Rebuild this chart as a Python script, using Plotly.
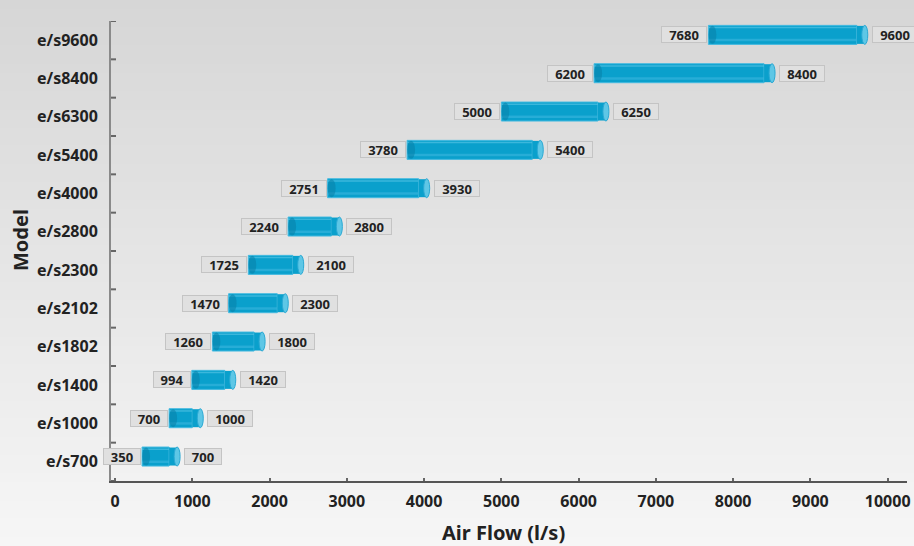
import plotly.graph_objects as go

# ---- data ----
models = ["e/s700", "e/s1000", "e/s1400", "e/s1802", "e/s2102", "e/s2300",
          "e/s2800", "e/s4000", "e/s5400", "e/s6300", "e/s8400", "e/s9600"]
flow_low = [350, 700, 994, 1260, 1470, 1725, 2240, 2751, 3780, 5000, 6200, 7680]
flow_high = [700, 1000, 1420, 1800, 2100, 2300, 2800, 3930, 5400, 6250, 8400, 9600]
low_labels = ["350", "700", "994", "1260", "1470", "1725", "2240", "2751", "3780", "5000", "6200", "7680"]
high_labels = ["700", "1000", "1420", "1800", "2300", "2100", "2800", "3930", "5400", "6250", "8400", "9600"]
x_ticks = [0, 1000, 2000, 3000, 4000, 5000, 6000, 7000, 8000, 9000, 10000]
x_tick_labels = ["0", "1000", "2000", "3000", "4000", "5000", "6000", "7000", "8000", "9000", "10000"]

FONT = "Noto Sans"
BAR = "#0aa0cc"
W, H = 914, 546
ML, MR, MT, MB = 111, 7, 21, 65
PW, PH = W - ML - MR, H - MT - MB

fig = go.Figure()
fig.add_trace(go.Bar(
    y=list(range(len(models))),
    x=[h - l for l, h in zip(flow_low, flow_high)],
    base=flow_low,
    orientation="h",
    width=0.4957,
    offset=-0.1098,
    marker=dict(color=BAR, line=dict(color="#45bae0", width=1)),
    hoverinfo="skip",
    showlegend=False,
))

shapes = []
# background gradient (paper coords)
N = 60
top_c, bot_c = (0xd6, 0xd6, 0xd6), (0xf6, 0xf6, 0xf6)
for k in range(N):
    p0 = k * H / N
    p1 = (k + 1) * H / N + 1
    t = (k + 0.5) / N
    col = tuple(round(top_c[j] + (bot_c[j] - top_c[j]) * t) for j in range(3))
    shapes.append(dict(
        type="rect", xref="paper", yref="paper", layer="below",
        x0=(0 - ML) / PW, x1=(W - ML) / PW,
        y0=(H - MB - p1) / PH, y1=(H - MB - p0) / PH,
        fillcolor="rgb(%d,%d,%d)" % col, line=dict(width=0),
    ))

c, h = 5.3, 9.5
for i, (lo, hi) in enumerate(zip(flow_low, flow_high)):
    shapes.append(dict(type="rect", xref="x", yref="y", x0=lo, x1=hi,
                       ysizemode="pixel", yanchor=i, y0=c - 6.5, y1=c - 4,
                       fillcolor="#3ab6de", opacity=0.6, line=dict(width=0)))
    shapes.append(dict(type="rect", xref="x", yref="y", x0=lo, x1=hi,
                       ysizemode="pixel", yanchor=i, y0=c + 6.5, y1=c + 8,
                       fillcolor="#5cc6e6", opacity=0.6, line=dict(width=0)))
    shapes.append(dict(type="rect", xref="x", yref="y",
                       xsizemode="pixel", xanchor=hi, x0=0, x1=8,
                       ysizemode="pixel", yanchor=i, y0=c - h + 0.5, y1=c + h - 0.5,
                       fillcolor=BAR, line=dict(width=0)))
    shapes.append(dict(type="circle", xref="x", yref="y",
                       xsizemode="pixel", xanchor=lo, x0=0, x1=8,
                       ysizemode="pixel", yanchor=i, y0=c - h + 0.5, y1=c + h - 0.5,
                       fillcolor="#0880a8", opacity=0.55, line=dict(width=0)))
    shapes.append(dict(type="circle", xref="x", yref="y",
                       xsizemode="pixel", xanchor=hi, x0=5, x1=11,
                       ysizemode="pixel", yanchor=i, y0=c - h, y1=c + h,
                       fillcolor="#5ec7e6", line=dict(color="#2aa9d4", width=1)))

annotations = []
for i, (lo, hi, tl, th) in enumerate(zip(flow_low, flow_high, low_labels, high_labels)):
    for xv, txt, anchor, shift in ((lo, tl, "right", -1), (hi, th, "left", 15)):
        annotations.append(dict(
            x=xv, y=i, xref="x", yref="y", text=txt, showarrow=False,
            xanchor=anchor, yanchor="middle", xshift=shift, yshift=c,
            width=8 * len(txt) + 12, height=15,
            font=dict(family=FONT, size=13, color="#222222", weight="bold"),
            bgcolor="#e0e0e0", bordercolor="#c4c4c4", borderwidth=1, borderpad=0,
        ))

annotations.append(dict(
    x=(503 - ML) / PW, y=(H - MB - 532) / PH, xref="paper", yref="paper",
    text="Air Flow (l/s)", showarrow=False, xanchor="center", yanchor="middle",
    font=dict(family=FONT, size=20, color="#222222", weight="bold"),
))
annotations.append(dict(
    x=(20 - ML) / PW, y=(H - MB - 240) / PH, xref="paper", yref="paper",
    text="Model", showarrow=False, xanchor="center", yanchor="middle", textangle=-90,
    font=dict(family=FONT, size=20, color="#222222", weight="bold"),
))

fig.update_layout(
    width=W, height=H,
    margin=dict(l=ML, r=MR, t=MT, b=MB, autoexpand=False),
    paper_bgcolor="#e6e6e6",
    plot_bgcolor="rgba(0,0,0,0)",
    annotations=annotations,
    barmode="overlay",
    xaxis=dict(
        range=[-52, 10250], tickvals=x_ticks, ticktext=x_tick_labels,
        showgrid=False, zeroline=False,
        showline=True, linecolor="#555555", linewidth=1.5,
        ticks="inside", ticklen=3, tickwidth=2, tickcolor="#666666",
        ticklabelstandoff=5,
        tickfont=dict(family=FONT, size=16, color="#222222", weight="bold"),
    ),
    yaxis=dict(
        range=[-0.5, len(models) - 0.5],
        tickvals=list(range(len(models))), ticktext=models,
        showgrid=False, zeroline=False,
        showline=True, linecolor="#8a8a8a", linewidth=2,
        ticks="", ticklabelstandoff=8,
        tickfont=dict(family=FONT, size=16, color="#222222", weight="bold"),
    ),
)

# boundary ticks on y axis
for k in range(len(models) + 1):
    shapes.append(dict(type="line", xref="paper", yref="y", x0=0, x1=5 / PW,
                       y0=k - 0.5, y1=k - 0.5, line=dict(color="#666666", width=2)))
fig.update_layout(shapes=shapes)

fig.write_html(
    "out.html",
    config={"displayModeBar": False},
    post_script="document.body.style.margin='0';document.body.style.padding='0';",
)
